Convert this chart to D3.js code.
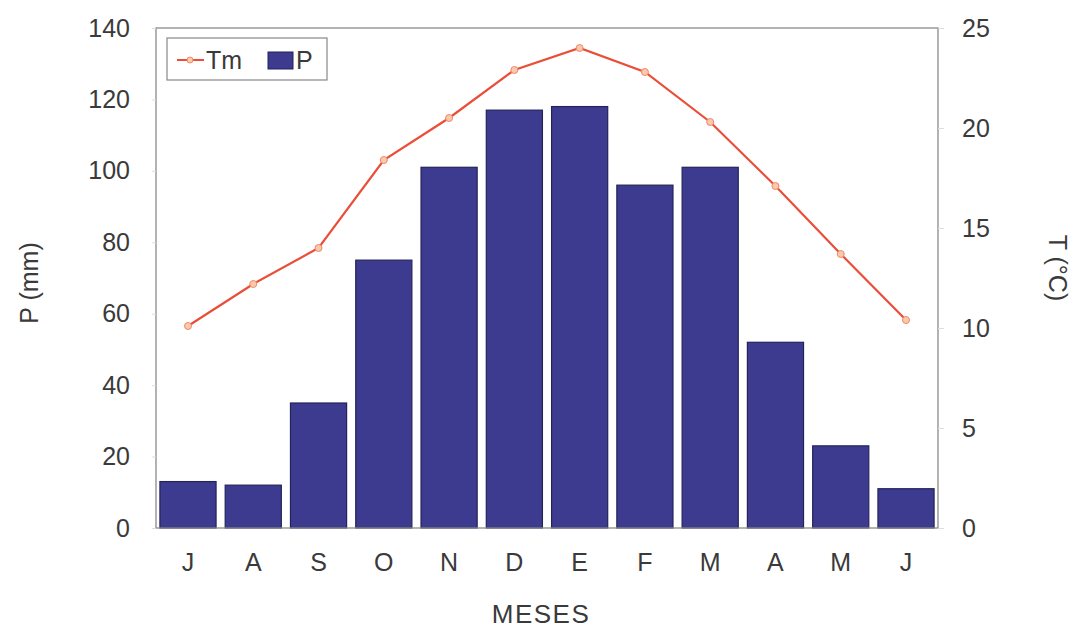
<!DOCTYPE html>
<html><head><meta charset="utf-8">
<script src="https://cdn.jsdelivr.net/npm/d3@7"></script>
<style>body{margin:0;background:#fff;font-family:"Liberation Sans",Arial,sans-serif;}</style>
</head><body><svg id="c" width="1079" height="630"></svg>
<script>
const months = ["J","A","S","O","N","D","E","F","M","A","M","J"];
const precip = [13,12,35,75,101,117,118,96,101,52,23,11];
const temp = [10.1,12.2,14.0,18.4,20.5,22.9,24.0,22.8,20.3,17.1,13.7,10.4];
const pTicks = [0,20,40,60,80,100,120,140];
const tTicks = [0,5,10,15,20,25];

const svg = d3.select("#c");
const L=156, R=938, T=28, B=528;
const idx = months.map((m,i)=>i);
const x = d3.scaleBand().domain(idx).range([L,R]).paddingInner(0.14).paddingOuter(0.06);
const yP = d3.scaleLinear().domain([0,140]).range([B,T]);
const yT = d3.scaleLinear().domain([0,25]).range([B,T]);
const txt = "#3a3a3a";

// bars
svg.append("g").selectAll("rect").data(precip).join("rect")
  .attr("x",(d,i)=>x(i)).attr("width",x.bandwidth())
  .attr("y",d=>yP(d)).attr("height",d=>B-yP(d))
  .attr("fill","#3c3b90").attr("stroke","#23235a").attr("stroke-width",1.2);

// frame
svg.append("rect").attr("x",L).attr("y",T).attr("width",R-L).attr("height",B-T)
  .attr("fill","none").attr("stroke","#8a8a8a").attr("stroke-width",1.3);

// axes
const fs = "25px";
const gl = svg.append("g").attr("transform",`translate(${L},0)`)
  .call(d3.axisLeft(yP).tickValues(pTicks).tickSize(4).tickPadding(22));
const gr = svg.append("g").attr("transform",`translate(${R},0)`)
  .call(d3.axisRight(yT).tickValues(tTicks).tickSize(6).tickPadding(18));
const gb = svg.append("g").attr("transform",`translate(0,${B})`)
  .call(d3.axisBottom(x).tickFormat(i=>months[i]).tickSize(0).tickPadding(25));
[gl,gr,gb].forEach(g=>{
  g.select(".domain").remove();
  g.selectAll(".tick line").attr("stroke","#ddd");
  g.selectAll("text").attr("font-size",fs).attr("fill",txt)
   .attr("font-family","'Liberation Sans',Arial,sans-serif");
});

// line
const line = d3.line().x((d,i)=>x(i)+x.bandwidth()/2).y(d=>yT(d));
svg.append("path").datum(temp).attr("d",line).attr("fill","none")
  .attr("stroke","#ea4d38").attr("stroke-width",2.2);
svg.append("g").selectAll("circle").data(temp).join("circle")
  .attr("cx",(d,i)=>x(i)+x.bandwidth()/2).attr("cy",d=>yT(d)).attr("r",3.5)
  .attr("fill","#f8c8b0").attr("stroke","#f08a60").attr("stroke-width",1);

// titles
svg.append("text").attr("transform","translate(38,283) rotate(-90)")
  .attr("text-anchor","middle").attr("font-size","25px").attr("fill",txt).text("P (mm)");
svg.append("text").attr("transform","translate(1049,268) rotate(90)")
  .attr("text-anchor","middle").attr("font-size","25px").attr("fill",txt).text("T (°C)");
svg.append("text").attr("x",541).attr("y",623).attr("text-anchor","middle")
  .attr("font-size","26px").attr("letter-spacing","1.5px").attr("fill",txt).text("MESES");

// legend
const lg = svg.append("g");
lg.append("rect").attr("x",167).attr("y",38).attr("width",160).attr("height",42)
  .attr("fill","#fff").attr("stroke","#888").attr("stroke-width",1.2);
lg.append("line").attr("x1",177).attr("x2",204).attr("y1",60).attr("y2",60)
  .attr("stroke","#ea4d38").attr("stroke-width",2);
lg.append("circle").attr("cx",190).attr("cy",60).attr("r",3).attr("fill","#f8c8b0").attr("stroke","#f08a60");
lg.append("text").attr("x",206).attr("y",69).attr("font-size","25px").attr("fill",txt).text("Tm");
lg.append("rect").attr("x",268).attr("y",52).attr("width",25).attr("height",17)
  .attr("fill","#3c3b90").attr("stroke","#23235a");
lg.append("text").attr("x",296).attr("y",69).attr("font-size","25px").attr("fill",txt).text("P");
</script></body></html>
